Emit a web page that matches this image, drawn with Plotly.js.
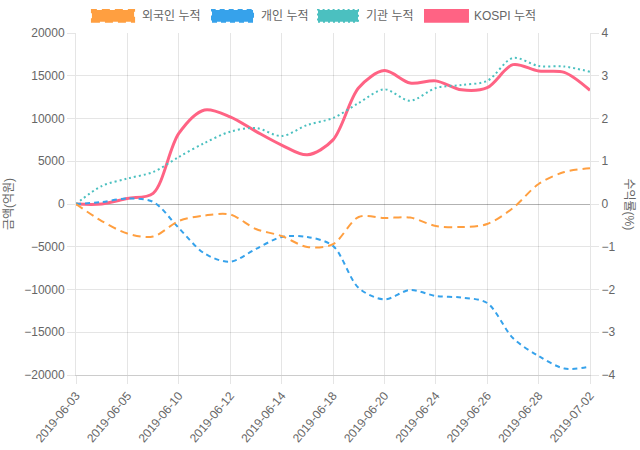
<!DOCTYPE html>
<html>
<head>
<meta charset="utf-8">
<script src="https://cdn.plot.ly/plotly-3.0.1.min.js"></script>
<style>html,body{margin:0;padding:0;background:#fff;}#chart{width:640px;height:450px;}</style>
</head>
<body>
<div id="chart"></div>
<script>
const dates = ["2019-06-03","2019-06-04","2019-06-05","2019-06-07","2019-06-10","2019-06-11","2019-06-12","2019-06-13","2019-06-14","2019-06-17","2019-06-18","2019-06-19","2019-06-20","2019-06-21","2019-06-24","2019-06-25","2019-06-26","2019-06-27","2019-06-28","2019-07-01","2019-07-02"];
const tickLabels = ["2019-06-03","2019-06-05","2019-06-10","2019-06-12","2019-06-14","2019-06-18","2019-06-20","2019-06-24","2019-06-26","2019-06-28","2019-07-02"];
const foreignCum = [0,-1990,-3450,-3800,-1990,-1350,-1230,-2920,-3740,-5030,-4700,-1520,-1640,-1580,-2570,-2690,-2340,-470,2340,3740,4180];
const individualCum = [0,230,640,250,-2810,-5790,-6750,-5260,-3860,-3860,-4900,-9820,-11150,-10060,-10760,-10940,-11580,-15670,-17780,-19240,-19030];
const institutionCum = [0,2100,2980,3740,5500,7130,8460,8890,7950,9240,10060,11810,13410,12080,13570,13920,14400,17080,16140,16080,15470];
const kospiCum = [0,0.0,0.13,0.25,1.65,2.2,2.04,1.7,1.38,1.15,1.5,2.72,3.12,2.83,2.88,2.67,2.72,3.26,3.11,3.08,2.66];
const names = ["외국인 누적","개인 누적","기관 누적","KOSPI 누적"];
const colors = ["rgb(255,159,64)","rgb(54,162,235)","rgb(75,192,192)","rgb(255,99,132)"];
const dashes = ["8px,5px","5px,4px","2px,3px","solid"];

const FONT = "Liberation Sans, Arial, Noto Sans CJK KR, sans-serif";
const traces = [
  {x: dates, y: kospiCum, name: names[3], yaxis: "y", type: "scatter", mode: "lines",
   line: {color: colors[3], width: 3, shape: "spline", smoothing: 0.9}},
  {x: dates, y: institutionCum, name: names[2], yaxis: "y2", type: "scatter", mode: "lines",
   line: {color: colors[2], width: 2, dash: dashes[2], shape: "spline", smoothing: 0.9}},
  {x: dates, y: individualCum, name: names[1], yaxis: "y2", type: "scatter", mode: "lines",
   line: {color: colors[1], width: 2, dash: dashes[1], shape: "spline", smoothing: 0.9}},
  {x: dates, y: foreignCum, name: names[0], yaxis: "y2", type: "scatter", mode: "lines",
   line: {color: colors[0], width: 2, dash: dashes[0], shape: "spline", smoothing: 0.9}}
];

const gridC = "rgba(0,0,0,0.1)";
const legendBoxes = [[0.031,0.113,0.1245],[0.2646,0.3444,0.356],[0.4708,0.5486,0.5603],[0.679,0.7626,0.7704]];
const shapes = [];
const annotations = [];
for (let i = 0; i < 4; i++) {
  const b = legendBoxes[i];
  shapes.push({type: "rect", xref: "paper", yref: "paper", x0: b[0], x1: b[1], y0: 1.033, y1: 1.067,
    fillcolor: colors[i], line: {color: colors[i], width: 2, dash: i < 3 ? dashes[i] : "solid"}});
  annotations.push({xref: "paper", yref: "paper", x: b[2], y: 1.05, xanchor: "left", yanchor: "middle",
    text: names[i], showarrow: false, font: {family: FONT, size: 12, color: "#666"}});
}
annotations.push({xref: "paper", yref: "paper", x: 1.075, y: 0.5, xanchor: "center", yanchor: "middle",
  text: "수익률(%)", textangle: 90, showarrow: false, font: {family: FONT, size: 12, color: "#666"}});

const layout = {
  width: 640, height: 450,
  margin: {l: 76, r: 50, t: 33, b: 75},
  paper_bgcolor: "#fff", plot_bgcolor: "#fff",
  showlegend: false,
  font: {family: FONT, size: 12, color: "#666"},
  xaxis: {type: "category", range: [0, 20], tickmode: "array", tickvals: tickLabels, ticktext: tickLabels,
    tickangle: -50, showgrid: true, gridcolor: gridC, ticks: "outside", ticklen: 8, tickcolor: gridC,
    showline: true, linecolor: "rgba(0,0,0,0.2)", zeroline: false, tickfont: {size: 12, color: "#666"}},
  yaxis: {side: "right", range: [-4, 4], dtick: 1, tick0: 0, showgrid: true, gridcolor: gridC,
    zeroline: true, zerolinecolor: "rgba(0,0,0,0.3)", zerolinewidth: 1,
    ticks: "outside", ticklen: 8, tickcolor: gridC, showline: true, linecolor: gridC,
    tickfont: {size: 12, color: "#666"}},
  yaxis2: {side: "left", overlaying: "y", range: [-20000, 20000], dtick: 5000, tick0: 0,
    showgrid: false, zeroline: false, ticks: "outside", ticklen: 8, tickcolor: gridC,
    showline: true, linecolor: gridC, tickformat: "d", tickfont: {size: 12, color: "#666"},
    title: {text: "금액(억원)", font: {size: 12, color: "#666"}, standoff: 8}},
  shapes: shapes,
  annotations: annotations
};
Plotly.newPlot("chart", traces, layout, {staticPlot: true});
</script>
</body>
</html>
